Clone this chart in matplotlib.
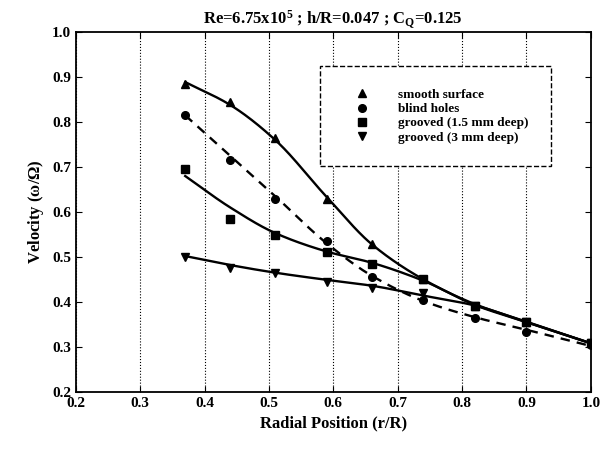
import numpy as np
import matplotlib.pyplot as plt

plt.rcParams['font.family'] = ['Liberation Serif', 'DejaVu Serif']
plt.rcParams['font.weight'] = 'bold'
plt.rcParams['mathtext.fontset'] = 'custom'
plt.rcParams['mathtext.rm'] = 'Liberation Serif:bold'
plt.rcParams['mathtext.it'] = 'Liberation Serif:bold'

# radial stations
r = [0.37, 0.44, 0.51, 0.59, 0.66, 0.74, 0.82, 0.90, 1.00]

# measured points
smooth = [0.885, 0.845, 0.765, 0.630, 0.528, 0.450, 0.390, 0.355, 0.308]
blind = [0.815, 0.715, 0.630, 0.535, 0.455, 0.405, 0.365, 0.333, 0.304]
groove15 = [0.695, 0.585, 0.548, 0.510, 0.485, 0.450, 0.392, 0.355, 0.308]
groove3 = [0.500, 0.476, 0.464, 0.445, 0.430, 0.420, 0.390, 0.355, 0.308]

# fitted curves read at the same stations
smooth_fit = [0.889, 0.838, 0.760, 0.633, 0.528, 0.450, 0.395, 0.356, 0.308]
blind_fit = [0.815, 0.725, 0.635, 0.530, 0.458, 0.402, 0.366, 0.338, 0.302]
groove15_fit = [0.680, 0.610, 0.553, 0.512, 0.487, 0.447, 0.393, 0.355, 0.308]
groove3_fit = [0.502, 0.482, 0.465, 0.449, 0.436, 0.414, 0.392, 0.355, 0.308]

labels = ['smooth surface', 'blind holes', 'grooved (1.5 mm deep)', 'grooved (3 mm deep)']
markers = ['^', 'o', 's', 'v']
styles = ['-', '--', '-', '-']


def pchip(x, y, xs):
    # monotone cubic (Fritsch-Carlson) for a smooth curve through the fit values
    x = np.asarray(x, float)
    y = np.asarray(y, float)
    h = np.diff(x)
    d = np.diff(y) / h
    m = np.zeros_like(y)
    for k in range(1, len(x) - 1):
        if d[k - 1] * d[k] > 0:
            w1 = 2 * h[k] + h[k - 1]
            w2 = h[k] + 2 * h[k - 1]
            m[k] = (w1 + w2) / (w1 / d[k - 1] + w2 / d[k])
    m[0] = d[0]
    m[-1] = d[-1]
    i = np.clip(np.searchsorted(x, xs) - 1, 0, len(x) - 2)
    t = (xs - x[i]) / h[i]
    h00 = 2 * t**3 - 3 * t**2 + 1
    h10 = t**3 - 2 * t**2 + t
    h01 = -2 * t**3 + 3 * t**2
    h11 = t**3 - t**2
    return h00 * y[i] + h10 * h[i] * m[i] + h01 * y[i + 1] + h11 * h[i] * m[i + 1]


fig = plt.figure(figsize=(6.06, 4.53), dpi=100)
ax = fig.add_axes([0.125, 0.135, 0.85, 0.794])

xs = np.linspace(r[0], r[-1], 300)
series = zip([smooth, blind, groove15, groove3],
             [smooth_fit, blind_fit, groove15_fit, groove3_fit],
             markers, styles, labels)
for ys, fit, m, ls, lab in series:
    ax.plot(r, ys, m, color='black', ms=5.5, label=lab, linestyle='none')
    line, = ax.plot(xs, pchip(r, fit, xs), color='black', lw=1.7, linestyle=ls)
    if ls == '--':
        line.set_dashes((4, 3))

ticks = np.arange(0.2, 1.01, 0.1)
ax.set_xlim(0.2, 1.0)
ax.set_ylim(0.2, 1.0)
ax.set_xticks(ticks)
ax.set_yticks(ticks)
ax.set_xticklabels(['%.1f' % v for v in ticks])
ax.set_yticklabels(['%.1f' % v for v in ticks])
ax.tick_params(direction='in', top=True, right=True, labelsize=11, length=4)
ax.grid(axis='x', linestyle=':', color='black', lw=0.8)
for s in ax.spines.values():
    s.set_linewidth(1.3)

ax.set_xlabel('Radial Position (r/R)', fontsize=12, fontweight='bold')
ax.set_ylabel('Velocity ($\\omega/\\Omega$)', fontsize=12, fontweight='bold')
ax.set_title('Re=6.75x10$^5$ ; h/R=0.047 ; C$_Q$=0.125', fontsize=12, fontweight='bold')

leg = ax.legend(loc='upper left', bbox_to_anchor=(0.474, 0.905), borderaxespad=0,
                fontsize=9.5, frameon=True, fancybox=False, edgecolor='black',
                handletextpad=1.2, labelspacing=0.15, borderpad=1.7,
                handlelength=3.0, framealpha=1)
leg.get_frame().set_linewidth(1.0)
leg.get_frame().set_linestyle('--')

fig.savefig('out.png', dpi=100)
